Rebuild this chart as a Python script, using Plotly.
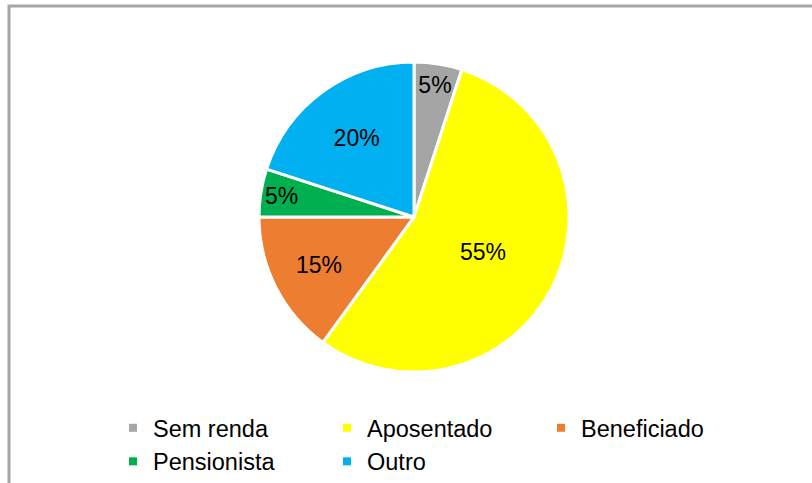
import plotly.graph_objects as go

categories = ["Sem renda", "Aposentado", "Beneficiado", "Pensionista", "Outro"]
values = [5, 55, 15, 5, 20]
colors = ["#A5A5A5", "#FFFF00", "#ED7D31", "#00B050", "#00B0F0"]

W, H = 812, 483
cx, cy, r = 414, 217, 155

fig = go.Figure(go.Pie(
    labels=categories,
    values=values,
    sort=False,
    direction="clockwise",
    rotation=0,
    marker=dict(colors=colors, line=dict(color="white", width=3)),
    textinfo="percent",
    texttemplate="%{percent:.0%}",
    textposition="inside",
    insidetextorientation="horizontal",
    textfont=dict(family="Liberation Sans, Arial", size=23, color="black"),
    domain=dict(x=[(cx - r) / W, (cx + r) / W], y=[(H - cy - r) / H, (H - cy + r) / H]),
    hoverinfo="label+percent",
    showlegend=False,
))

# legend entries with small square markers
for name, col in zip(categories, colors):
    fig.add_trace(go.Scatter(
        x=[None], y=[None], mode="markers", name=name,
        marker=dict(symbol="square", size=8, color=col),
        hoverinfo="skip",
    ))

fig.update_layout(
    width=W, height=H,
    margin=dict(l=0, r=0, t=0, b=0, autoexpand=False),
    paper_bgcolor="white",
    plot_bgcolor="white",
    font=dict(family="Liberation Sans, Arial", color="black"),
    uniformtext=dict(minsize=23, mode="show"),
    xaxis=dict(visible=False),
    yaxis=dict(visible=False),
    legend=dict(
        orientation="h",
        x=113 / W, xanchor="left",
        y=1 - 406 / H, yanchor="top",
        entrywidth=169,
        entrywidthmode="pixels",
        font=dict(size=23.5, color="black"),
        traceorder="normal",
        itemwidth=30,
    ),
    shapes=[dict(
        type="rect", xref="paper", yref="paper",
        x0=9 / W, x1=1.05, y0=-0.05, y1=1 - 6 / H,
        line=dict(color="#A6A6A6", width=3),
    )],
)

fig.write_html("out.html", config={"displayModeBar": False},
               post_script="document.body.style.margin='0';document.body.style.overflow='hidden';")
